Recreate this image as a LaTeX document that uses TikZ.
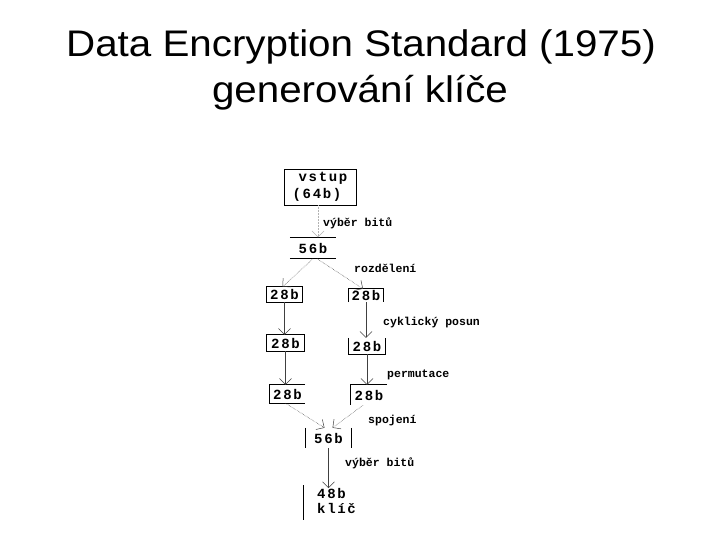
\documentclass[tikz,border=0pt]{standalone}
\usepackage{fontspec}
\setmainfont{Liberation Sans}
\newfontfamily\monofont{Liberation Mono}
\newfontfamily\boxfont{Liberation Mono}[LetterSpace=12]
\usetikzlibrary{arrows.meta}
\begin{document}
\begin{tikzpicture}[x=1pt,y=-1pt,
  title/.style={font=\fontsize{37}{40}\selectfont, anchor=base, inner sep=0pt},
  lbl/.style={font=\monofont\bfseries\fontsize{11.5}{12}\selectfont, inner sep=0pt, anchor=west},
  bx/.style={font=\boxfont\bfseries\fontsize{14}{16}\selectfont, inner sep=0pt},
  side/.style={line width=0.7pt, draw=black},
  edge/.style={line width=0.5pt, draw=black!75},
  vtip/.style={-{Straight Barb[length=6pt,width=12pt,line width=0.5pt]}},
  conn/.style={edge, vtip},
  dconn/.style={edge, densely dotted, vtip},
]
\useasboundingbox[fill=white] (0,0) rectangle (720,540);

% title
\node[title] (t1) at (361,57) {\scalebox{1.09}[1]{Data Encryption Standard (1975)}};
\node[title] (t2) at (360,103) {\scalebox{1.09}[1]{generování klíče}};

% input box
\node[bx, draw, line width=0.7pt, minimum width=72pt, minimum height=36pt, align=left,
      font=\boxfont\bfseries\fontsize{14}{17}\selectfont] (in) at (320,187) {\hspace*{6pt}vstup\\(64b)};

% 56b (top)
\node[bx, minimum width=46pt, minimum height=21pt] (b56) at (313,248) {56b};
\draw[side] (b56.north west) -- (b56.north east);
\draw[side] (b56.south west) -- (b56.south east);

% left column
\node[bx, minimum width=35pt, minimum height=15pt] (L1) at (284.5,294.5) {28b};
\draw[side] (L1.north west) rectangle (L1.south east);
\node[bx, minimum width=37pt, minimum height=16pt] (L2) at (285.5,343) {28b};
\draw[side] (L2.north west) rectangle (L2.south east);
\node[bx, minimum width=35pt, minimum height=18pt] (L3) at (287.5,394) {28b};
\draw[side] (L3.north east) -- (L3.north west) -- (L3.south west) -- (L3.south east);

% right column
\node[bx, minimum width=34pt, minimum height=13pt] (R1) at (366,295.5) {28b};
\draw[side] (R1.south west) -- (R1.north west) -- (R1.north east) -- (R1.south east);
\node[bx, minimum width=36pt, minimum height=16pt] (R2) at (367,346) {28b};
\draw[side] (R2.north west) -- (R2.south west) -- (R2.south east) -- (R2.north east);
\node[bx, minimum width=36pt, minimum height=20pt] (R3) at (369,395) {28b};
\draw[side] (R3.north east) -- (R3.north west) -- (R3.south west);

% 56b (bottom)
\node[bx, minimum width=45pt, minimum height=20pt] (c56) at (328.5,438) {56b};
\draw[side] (c56.north west) -- (c56.south west);
\draw[side] (c56.north east) -- (c56.south east);

% key
\node[bx, align=left, anchor=west, font=\boxfont\bfseries\fontsize{14}{15}\selectfont] (key) at (317,501) {48b\\klíč};
\draw[side] ([shift={(-14,-16)}]key.west) -- ([shift={(-14,19)}]key.west);

% labels
\node[lbl] (l1) at (323,223) {výběr bitů};
\node[lbl] (l2) at (354,268) {rozdělení};
\node[lbl] (l3) at (383,323) {cyklický posun};
\node[lbl] (l4) at (387,375) {permutace};
\node[lbl] (l5) at (368,421) {spojení};
\node[lbl] (l6) at (345,463) {výběr bitů};

% connectors
\draw[dconn, draw=black!30] ([xshift=-2pt]in.south) -- ([xshift=5pt]b56.north);
\draw[dconn] (b56.south) -- ([xshift=-2pt]L1.north);
\draw[dconn] ([xshift=4pt]b56.south) -- ([xshift=-3pt]R1.north);
\draw[conn] (L1.south) -- (L1.south |- L2.north);
\draw[conn] (L2.south) -- (L2.south |- L3.north);
\draw[conn] (R1.south) -- (R1.south |- R2.north);
\draw[conn] (R2.south) -- (R2.south |- R3.north);
\draw[dconn] ([xshift=-2pt]L3.south) -- ([xshift=-4pt]c56.north);
\draw[dconn] ([xshift=-6pt]R3.south) -- ([xshift=4pt]c56.north);
\draw[conn] (c56.south) -- (c56.south |- key.north);
\end{tikzpicture}
\end{document}
